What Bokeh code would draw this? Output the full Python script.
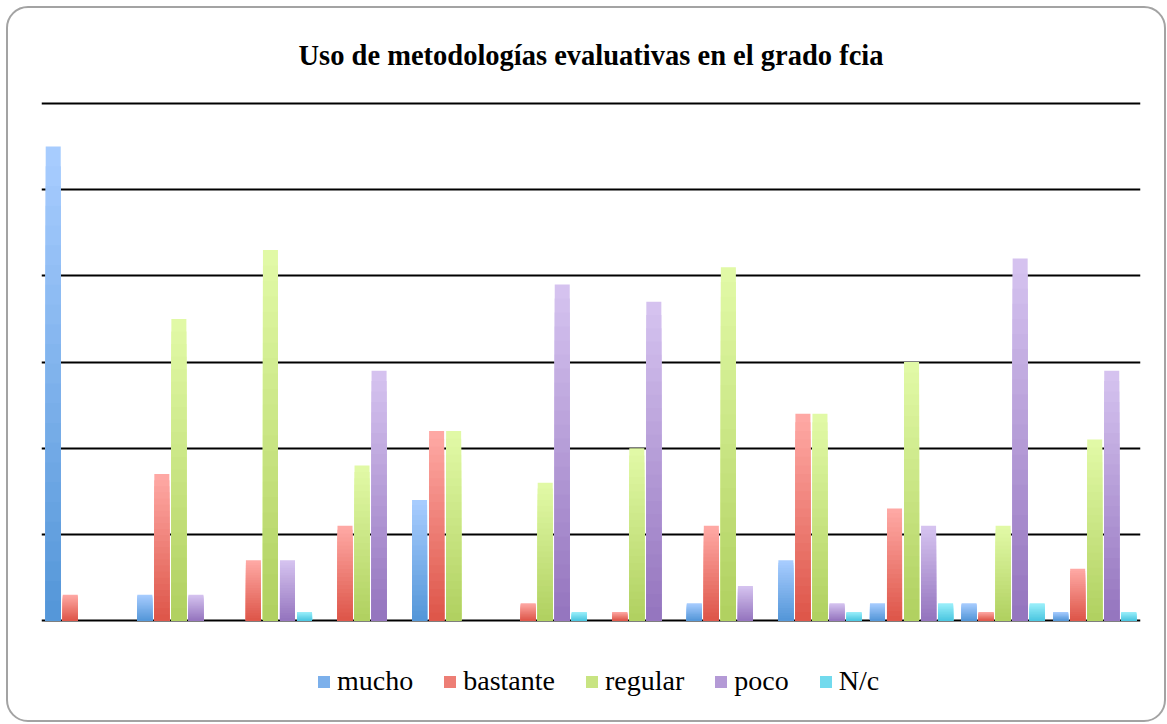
from bokeh.plotting import figure
from bokeh.models import Range1d, Legend, LegendItem, ColumnDataSource, FixedTicker
from bokeh.transform import dodge
from bokeh.embed import file_html
from bokeh.resources import INLINE

# ---- data ----
categories = ["1", "2", "3", "4", "5", "6", "7", "8", "9", "10", "11", "12"]
series = ["mucho", "bastante", "regular", "poco", "N/c"]
mucho = [55, 3, 0, 0, 14, 0, 0, 2, 7, 2, 2, 1]
bastante = [3, 17, 7, 11, 22, 2, 1, 11, 24, 13, 1, 6]
regular = [0, 35, 43, 18, 22, 16, 20, 41, 24, 30, 11, 21]
poco = [0, 3, 7, 29, 0, 39, 37, 4, 2, 11, 42, 29]
nc = [0, 0, 1, 0, 0, 1, 0, 0, 1, 2, 2, 1]
grid_ticks = [0, 10, 20, 30, 40, 50, 60]
title_text = "Uso de metodologías evaluativas en el grado fcia"

values = [mucho, bastante, regular, poco, nc]
# (top colour, bottom colour) of each series' gradient
grad = [((169, 205, 255), (83, 150, 216)),
        ((255, 170, 166), (221, 85, 72)),
        ((226, 250, 167), (176, 208, 96)),
        ((214, 196, 240), (148, 116, 190)),
        ((156, 240, 251), (75, 198, 224))]
offsets = [-0.372, -0.186, 0.0, 0.186, 0.372]
BAR_W = 0.164
N = 24

FONT = "Liberation Serif"

p = figure(width=1160, height=716, x_range=categories, y_range=Range1d(-10.9, 60.23),
           output_backend="svg", toolbar_location=None,
           min_border_left=33, min_border_right=28, min_border_top=93, min_border_bottom=10)
p.border_fill_color = None
p.background_fill_color = None
p.outline_line_color = None
p.styles = {"border": "2px solid #a3a3a3", "border-radius": "22px", "overflow": "hidden",
            "margin-left": "6px", "margin-top": "6px"}

p.xaxis.visible = False
p.yaxis.visible = False
p.xgrid.grid_line_color = None
p.yaxis.ticker = FixedTicker(ticks=grid_ticks)
p.ygrid.ticker = FixedTicker(ticks=grid_ticks)
p.ygrid.grid_line_color = "black"
p.ygrid.grid_line_width = 2
p.x_range.range_padding = 0

p.title.text = title_text
p.title.align = "center"
p.title.vertical_align = "top"
p.title.text_font = FONT
p.title.text_font_style = "bold"
p.title.text_font_size = "28.5px"
p.title.text_color = "black"
p.title.standoff = 57

def mix(c1, c2, t):
    return "#%02x%02x%02x" % tuple(int(round(a * t + b * (1 - t))) for a, b in zip(c1, c2))

legend_items = []
for s, name in enumerate(series):
    top_c, bot_c = grad[s]
    mid_r = None
    for k in range(N):
        frac = 1 - k / N
        t = frac - 0.5 / N
        src = ColumnDataSource(dict(x=categories, top=[v * frac for v in values[s]]))
        r = p.vbar(x=dodge("x", offsets[s], range=p.x_range), top="top", bottom=0,
                   width=BAR_W, source=src, fill_color=mix(top_c, bot_c, t), line_color=None)
        if k == N // 2:
            mid_r = r
    legend_items.append(LegendItem(label=name, renderers=[mid_r]))

legend = Legend(items=legend_items, orientation="horizontal", location=(275, 17),
                label_text_font=FONT, label_text_font_size="28px", label_text_color="black",
                glyph_width=15, glyph_height=15, label_standoff=6, spacing=29,
                border_line_color=None, background_fill_color=None, background_fill_alpha=0)
p.add_layout(legend, "center")

open("out.html", "w").write(file_html(p, INLINE))
